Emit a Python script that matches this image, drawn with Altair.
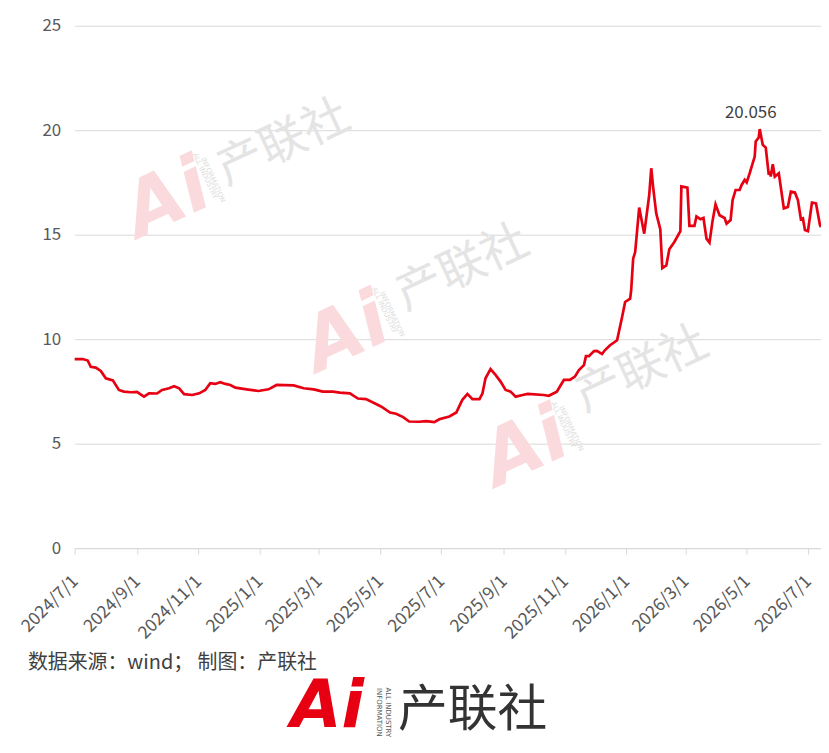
import altair as alt
import pandas as pd

FONT = "Noto Sans CJK SC"

dates = [
    "2024-07-01", "2024-07-09", "2024-07-14", "2024-07-17", "2024-07-22", "2024-07-27",
    "2024-08-01", "2024-08-08", "2024-08-14", "2024-08-19", "2024-08-26", "2024-09-01",
    "2024-09-08", "2024-09-13", "2024-09-21", "2024-09-26", "2024-10-03", "2024-10-08",
    "2024-10-13", "2024-10-18", "2024-10-26", "2024-11-02", "2024-11-08", "2024-11-13",
    "2024-11-18", "2024-11-23", "2024-11-28", "2024-12-03", "2024-12-08", "2024-12-21",
    "2024-12-31", "2025-01-10", "2025-01-18", "2025-02-04", "2025-02-14", "2025-02-24",
    "2025-03-05", "2025-03-15", "2025-03-22", "2025-04-01", "2025-04-09", "2025-04-17",
    "2025-04-24", "2025-05-02", "2025-05-11", "2025-05-17", "2025-05-24", "2025-05-30",
    "2025-06-09", "2025-06-16", "2025-06-24", "2025-06-29", "2025-07-09", "2025-07-16",
    "2025-07-18", "2025-07-22", "2025-07-27", "2025-08-01", "2025-08-08", "2025-08-11",
    "2025-08-14", "2025-08-19", "2025-08-24", "2025-08-29", "2025-09-03", "2025-09-08",
    "2025-09-13", "2025-09-20", "2025-09-25", "2025-10-11", "2025-10-16", "2025-10-24",
    "2025-10-31", "2025-11-06", "2025-11-11", "2025-11-15", "2025-11-20", "2025-11-22",
    "2025-11-25", "2025-11-30", "2025-12-03", "2025-12-08", "2025-12-11", "2025-12-16",
    "2025-12-23", "2025-12-28", "2025-12-31", "2026-01-05", "2026-01-06", "2026-01-08",
    "2026-01-10", "2026-01-14", "2026-01-19", "2026-01-24", "2026-01-26", "2026-01-28",
    "2026-01-31", "2026-02-04", "2026-02-06", "2026-02-10", "2026-02-13", "2026-02-18",
    "2026-02-24", "2026-02-25", "2026-03-03", "2026-03-05", "2026-03-10", "2026-03-12",
    "2026-03-16", "2026-03-19", "2026-03-22", "2026-03-25", "2026-03-28", "2026-03-31",
    "2026-04-04", "2026-04-09", "2026-04-11", "2026-04-15", "2026-04-17", "2026-04-20",
    "2026-04-24", "2026-04-26", "2026-04-29", "2026-05-01", "2026-05-04", "2026-05-09",
    "2026-05-10", "2026-05-13", "2026-05-14", "2026-05-17", "2026-05-20", "2026-05-23",
    "2026-05-24", "2026-05-25", "2026-05-27", "2026-05-29", "2026-06-02", "2026-06-07",
    "2026-06-11", "2026-06-14", "2026-06-18", "2026-06-21", "2026-06-24", "2026-06-26",
    "2026-06-28", "2026-07-01", "2026-07-05", "2026-07-09", "2026-07-13", "2026-07-14",
]

values = [
    9.05, 9.05, 8.98, 8.68, 8.64, 8.48,
    8.13, 8.03, 7.57, 7.49, 7.46, 7.48,
    7.25, 7.41, 7.40, 7.57, 7.65, 7.75,
    7.65, 7.37, 7.33, 7.41, 7.57, 7.89,
    7.86, 7.94, 7.86, 7.81, 7.68, 7.59,
    7.52, 7.60, 7.81, 7.79, 7.65, 7.60,
    7.49, 7.49, 7.44, 7.41, 7.16, 7.13,
    6.97, 6.78, 6.49, 6.43, 6.27, 6.06,
    6.05, 6.08, 6.03, 6.17, 6.30, 6.49,
    6.70, 7.10, 7.38, 7.13, 7.13, 7.41,
    8.13, 8.57, 8.29, 7.97, 7.57, 7.49,
    7.25, 7.33, 7.38, 7.33, 7.29, 7.49,
    8.05, 8.05, 8.21, 8.52, 8.76, 9.19,
    9.19, 9.43, 9.44, 9.29, 9.48, 9.71,
    9.95, 11.06, 11.78, 11.94, 12.33, 13.85,
    14.17, 16.30, 15.05, 16.90, 18.18, 17.22,
    16.01, 15.26, 13.40, 13.53, 14.30, 14.65,
    15.17, 17.31, 17.25, 15.42, 15.42, 15.87,
    15.74, 15.80, 14.81, 14.62, 15.65, 16.45,
    15.93, 15.80, 15.53, 15.70, 16.66, 17.14,
    17.14, 17.38, 17.62, 17.50, 17.94, 18.74,
    19.46, 19.65, 20.056, 19.30, 19.17, 17.86,
    18.02, 17.78, 18.37, 17.78, 17.94, 16.26,
    16.33, 17.06, 17.02, 16.66, 15.74, 15.78,
    15.22, 15.17, 16.54, 16.50, 15.45, 15.37,
]

tick_dates = [
    "2024-07-01", "2024-09-01", "2024-11-01", "2025-01-01", "2025-03-01", "2025-05-01",
    "2025-07-01", "2025-09-01", "2025-11-01", "2026-01-01", "2026-03-01", "2026-05-01",
    "2026-07-01",
]
domain_start = "2024-07-01"
domain_end = "2026-07-14"
y_ticks = [0, 5, 10, 15, 20, 25]

peak_date = "2026-05-14"
peak_value = 20.056
peak_label = "20.056"

source_text = "数据来源：wind；  制图：产联社"
brand_text = "产联社"
brand_logo = "Ai"
brand_sub1 = "ALL INDUSTRY"
brand_sub2 = "INFORMATION"

RED = "#e60012"
GRAY = "#595959"
GRID = "#d9d9d9"


def to_dt(s):
    t = pd.Timestamp(s)
    return alt.DateTime(year=t.year, month=t.month, date=t.day)


df = pd.DataFrame({"date": pd.to_datetime(dates), "value": values})
peak_df = pd.DataFrame(
    {"date": [pd.Timestamp(peak_date)], "value": [peak_value], "label": [peak_label]}
)
one = pd.DataFrame({"a": [0]})

x_enc = alt.X(
    "date:T",
    title=None,
    scale=alt.Scale(domain=[to_dt(domain_start), to_dt(domain_end)], nice=False),
    axis=alt.Axis(
        values=[to_dt(d) for d in tick_dates],
        format="%Y/%-m/%-d",
        labelAngle=-45,
        labelAlign="right",
        labelBaseline="top",
        labelFontSize=17.5,
        labelFont=FONT,
        labelColor=GRAY,
        labelPadding=18,
        labelOffset=-6,
        domainColor=GRID,
        tickColor=GRID,
        tickSize=6,
        grid=False,
        labelOverlap=False,
    ),
)
y_enc = alt.Y(
    "value:Q",
    title=None,
    scale=alt.Scale(domain=[0, 25], nice=False),
    axis=alt.Axis(
        values=y_ticks,
        grid=True,
        gridColor=GRID,
        domain=False,
        ticks=False,
        labelFontSize=17,
        labelFont=FONT,
        labelColor=GRAY,
        labelPadding=14,
    ),
)


def deco(text, x, y, size, color, angle=0, weight="normal", style="normal",
         font=FONT, align="center", opacity=1.0):
    return alt.Chart(one).mark_text(
        text=text, fontSize=size, color=color, angle=angle, fontWeight=weight,
        fontStyle=style, font=font, align=align, baseline="middle", opacity=opacity,
    ).encode(x=alt.value(x), y=alt.value(y))


# faint watermarks (plot coordinates)
wm_layers = []
for (tx, ty, lx, ly) in [(210, 118, 93, 175), (390, 244, 273, 310), (570, 346, 453, 425)]:
    wm_layers.append(deco(brand_logo, lx, ly, 76, "#fadadd", angle=335, weight="bold",
                          style="italic", font="DejaVu Sans"))
    wm_layers.append(deco(brand_sub1, lx + 38, ly - 24, 7, "#dcdcdc", angle=65,
                          font="DejaVu Sans"))
    wm_layers.append(deco(brand_sub2, lx + 46, ly - 20, 7, "#dcdcdc", angle=65,
                          font="DejaVu Sans"))
    wm_layers.append(deco(brand_text, tx, ty, 47, "#e4e4e4", angle=335))

line = alt.Chart(df).mark_line(color=RED, strokeWidth=2.7).encode(x=x_enc, y=y_enc)

peak = alt.Chart(peak_df).mark_text(
    dx=-9, dy=-16, fontSize=17, font=FONT, color="#404040", baseline="middle"
).encode(x="date:T", y="value:Q", text="label:N")

bottom = [
    deco(source_text, -47, 640, 20, "#404040", align="left"),
    deco(brand_logo, 254, 685, 66, RED, weight="bold", style="italic", font="DejaVu Sans"),
    deco(brand_sub1, 315, 690, 7, "#555555", angle=90, font="DejaVu Sans"),
    deco(brand_sub2, 306, 690, 7, "#555555", angle=90, font="DejaVu Sans"),
    deco(brand_text, 400, 689, 50, "#333333"),
]

chart = alt.layer(*wm_layers, line, peak, *bottom).properties(
    width=750,
    height=525,
    autosize=alt.AutoSizeParams(type="none"),
    padding={"left": 67, "top": 16, "right": 0, "bottom": 196},
    background="white",
).configure_view(stroke=None)

chart.save("out.html", embed_options={"renderer": "svg", "actions": False})
